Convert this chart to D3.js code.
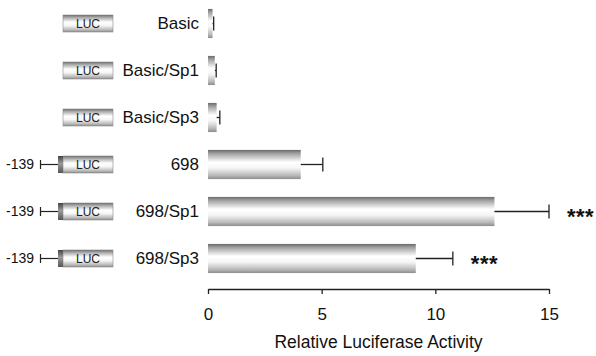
<!DOCTYPE html>
<meta charset="utf-8">
<title>Relative Luciferase Activity</title>
<style>

    body {
        margin: 0;
        background: #fff;
    }

    text {
        font-family: "Liberation Sans", Arial, sans-serif;
        fill: #111;
    }

</style>
<body>
<script src="https://d3js.org/d3.v7.min.js"></script>
<script>

    // data
    var constructs = ["Basic", "Basic/Sp1", "Basic/Sp3", "698", "698/Sp1", "698/Sp3"],
        activity = [0.2, 0.3, 0.38, 4.08, 12.6, 9.14],
        errors = [0.05, 0.06, 0.14, 0.97, 2.4, 1.63],
        promoter = ["", "", "", "-139", "-139", "-139"],
        stars = ["", "", "", "", "***", "***"],
        xTicks = [0, 5, 10, 15];

    var w = 596,
        h = 356,
        axisY = 289;

    var svg = d3.select("body").append("svg")
        .attr("width", w)
        .attr("height", h);

    var defs = svg.append("defs");

    // cylinder-ish shading used by the bars and the LUC boxes
    var grad = defs.append("linearGradient")
        .attr("id", "tube")
        .attr("x1", 0).attr("y1", 0).attr("x2", 0).attr("y2", 1);
    [[0, "#6a6a6a"], [0.12, "#a0a0a0"], [0.42, "#ffffff"], [0.62, "#f6f6f6"], [0.88, "#b8b8b8"], [1, "#8c8c8c"]]
        .forEach(function(s) {
            grad.append("stop").attr("offset", s[0]).attr("stop-color", s[1]);
        });

    var dark = defs.append("linearGradient")
        .attr("id", "tubeDark")
        .attr("x1", 0).attr("y1", 0).attr("x2", 0).attr("y2", 1);
    [[0, "#444"], [0.45, "#9a9a9a"], [1, "#555"]]
        .forEach(function(s) {
            dark.append("stop").attr("offset", s[0]).attr("stop-color", s[1]);
        });

    var x = d3.scaleLinear()
        .domain([0, 15])
        .range([208, 549]);

    var y = d3.scaleBand()
        .domain(constructs)
        .range([0, 282])
        .paddingInner(0.38)
        .paddingOuter(0.19);

    var rows = constructs.map(function(c, i) {
        return {name: c, value: activity[i], err: errors[i], prom: promoter[i], sig: stars[i]};
    });

    var row = svg.selectAll("g.row")
        .data(rows)
        .enter().append("g")
        .attr("class", "row")
        .attr("transform", function(d) { return "translate(0," + (y(d.name) + y.bandwidth() / 2) + ")"; });

    // bars
    row.append("rect")
        .attr("x", x(0))
        .attr("y", -y.bandwidth() / 2)
        .attr("width", function(d) { return x(d.value) - x(0); })
        .attr("height", y.bandwidth())
        .style("fill", "url(#tube)");

    // error bars
    row.append("line")
        .attr("x1", function(d) { return x(d.value); })
        .attr("x2", function(d) { return x(d.value + d.err); })
        .attr("y1", 0).attr("y2", 0)
        .style("stroke", "#222")
        .style("stroke-width", 1.3);

    row.append("line")
        .attr("x1", function(d) { return x(d.value + d.err); })
        .attr("x2", function(d) { return x(d.value + d.err); })
        .attr("y1", -7).attr("y2", 7)
        .style("stroke", "#222")
        .style("stroke-width", 1.3);

    // significance
    row.append("text")
        .attr("x", function(d) { return x(d.value + d.err) + 18; })
        .attr("y", 12)
        .style("font-size", "22px")
        .style("font-weight", "bold")
        .style("letter-spacing", "0.5px")
        .text(function(d) { return d.sig; });

    // construct names
    row.append("text")
        .attr("x", 199)
        .attr("dy", "0.35em")
        .attr("text-anchor", "end")
        .style("font-size", "17px")
        .text(function(d) { return d.name; });

    // LUC reporter boxes
    row.append("rect")
        .attr("x", 63)
        .attr("y", -8.5)
        .attr("width", 50)
        .attr("height", 17)
        .style("fill", "url(#tube)")
        .style("stroke", "#8a8a8a")
        .style("stroke-width", 0.6);

    row.append("text")
        .attr("x", 88)
        .attr("dy", "0.36em")
        .attr("text-anchor", "middle")
        .style("font-size", "12px")
        .style("fill", "#222")
        .text("LUC");

    // promoter fragment for the -139 constructs
    var prom = row.filter(function(d) { return d.prom; });

    prom.append("rect")
        .attr("x", 58)
        .attr("y", -8.5)
        .attr("width", 5)
        .attr("height", 17)
        .style("fill", "url(#tubeDark)");

    prom.append("line")
        .attr("x1", 40.5).attr("x2", 58)
        .attr("y1", 0).attr("y2", 0)
        .style("stroke", "#222")
        .style("stroke-width", 1.2);

    prom.append("line")
        .attr("x1", 40.5).attr("x2", 40.5)
        .attr("y1", -4.5).attr("y2", 4.5)
        .style("stroke", "#222")
        .style("stroke-width", 1.2);

    prom.append("text")
        .attr("x", 34)
        .attr("dy", "0.35em")
        .attr("text-anchor", "end")
        .style("font-size", "14px")
        .text(function(d) { return d.prom; });

    // x axis
    var axis = svg.append("g")
        .attr("transform", "translate(0," + axisY + ")")
        .call(d3.axisBottom(x)
            .tickValues(xTicks)
            .tickSize(5)
            .tickSizeOuter(0)
            .tickPadding(14)
            .tickFormat(d3.format("d")));

    axis.selectAll("path, line")
        .style("stroke", "#222")
        .style("stroke-width", 1.3);

    axis.selectAll("text")
        .style("font-size", "17px")
        .style("font-family", "'Liberation Sans', Arial, sans-serif")
        .style("fill", "#111");

    svg.append("text")
        .attr("x", (x(0) + x(15)) / 2)
        .attr("y", 348)
        .attr("text-anchor", "middle")
        .style("font-size", "17.5px")
        .text("Relative Luciferase Activity");

</script>
